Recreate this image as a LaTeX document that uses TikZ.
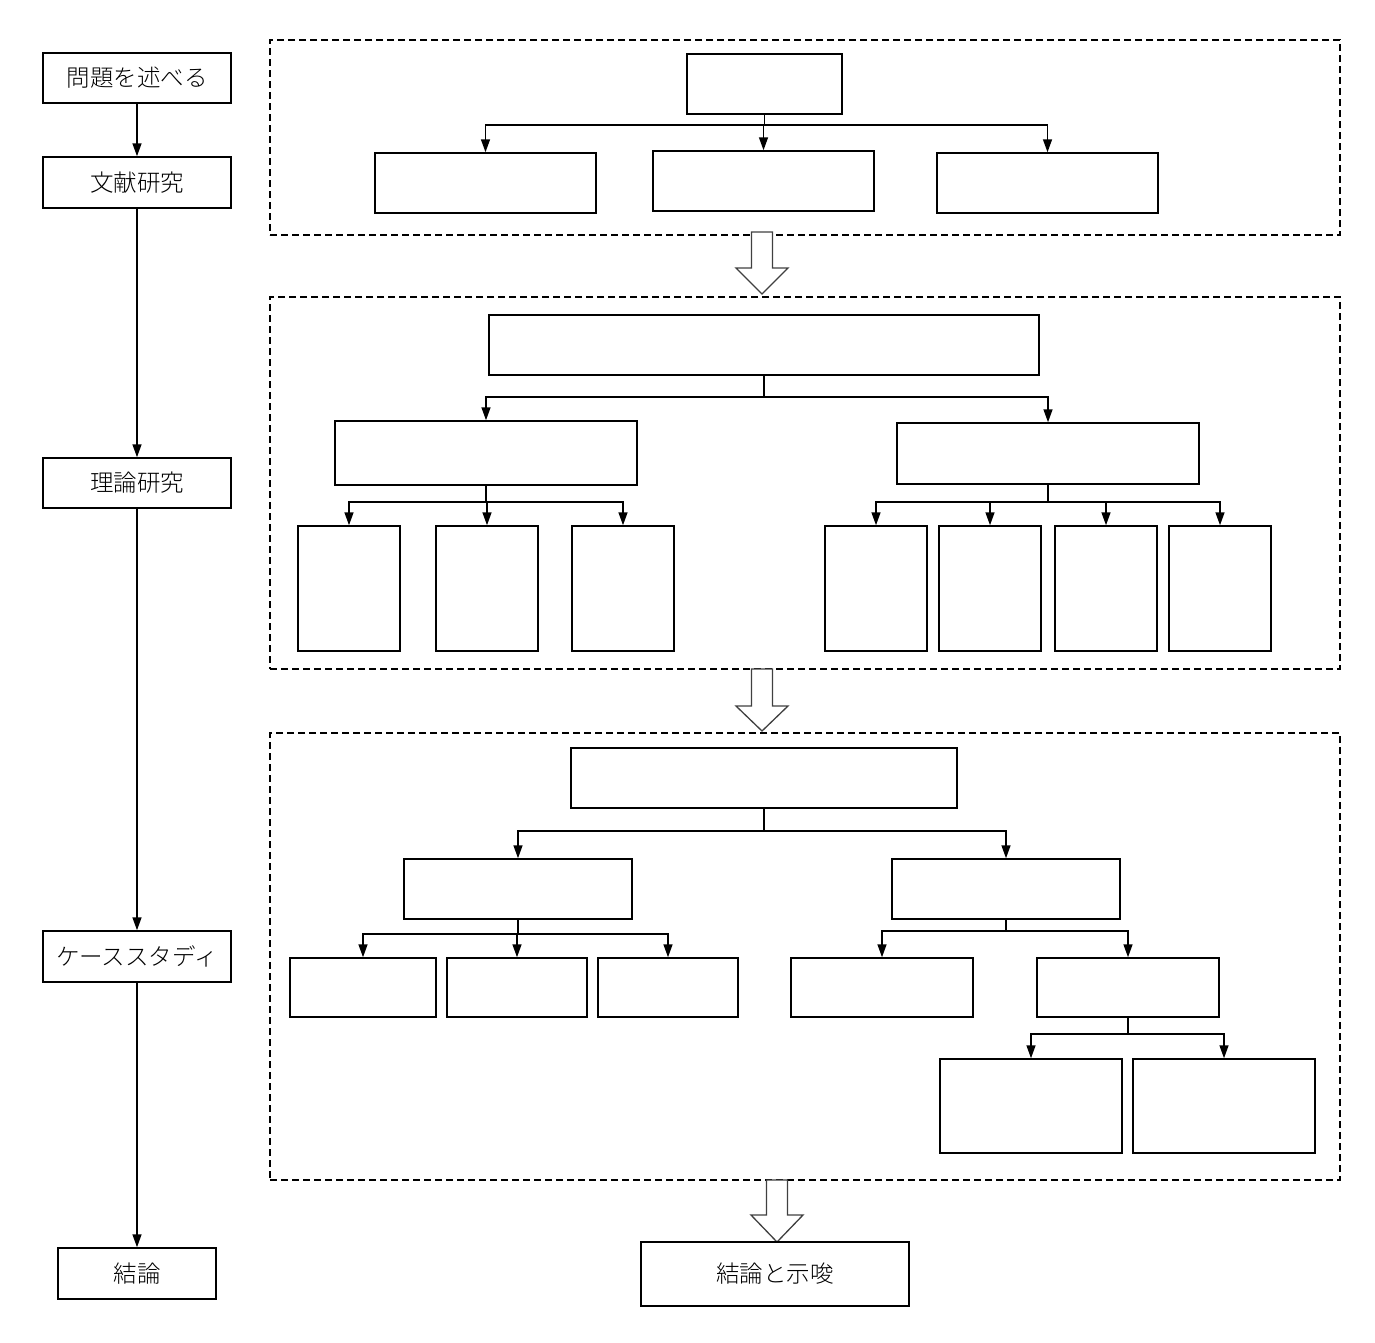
\documentclass[tikz,border=0pt]{standalone}
\usepackage{fontspec}
\setmainfont{Noto Sans CJK JP}[FontFace={l}{n}{Font=* Light}]
\usetikzlibrary{arrows.meta}
\tikzset{
  box/.style={draw, line width=1.5pt, inner sep=0pt, font=\fontsize{23.5}{27}\fontseries{l}\selectfont},
  dbox/.style={draw, line width=1.3pt, dash pattern=on 7pt off 4pt, inner sep=0pt},
  arr/.style={line width=1.5pt, -{Triangle[length=13pt,width=9pt]}},
  hollow/.style={draw=black!75, line width=1.3pt, fill=white},
}
\newcommand{\bx}[6]{\node[box, minimum width={(#4)-(#2)}, minimum height={(#5)-(#3)}] (#1) at ({((#2)+(#4))/2},{((#3)+(#5))/2}) {#6};}
\newcommand{\dbx}[5]{\node[dbox, minimum width={(#4)-(#2)}, minimum height={(#5)-(#3)}] (#1) at ({((#2)+(#4))/2},{((#3)+(#5))/2}) {};}
\newcommand{\harrow}[4]{% cx, shaft top, head start, tip
  \draw[hollow] ({#1-10.5},#2) -- ({#1+10.5},#2) -- ({#1+10.5},#3) -- ({#1+26},#3) -- (#1,#4) -- ({#1-26},#3) -- ({#1-10.5},#3) -- cycle;}
\begin{document}
\begin{tikzpicture}[x=1pt,y=-1pt]
\useasboundingbox (0,0) rectangle (1375,1342);
% left column
\bx{l1}{43}{53}{231}{103}{問題を述べる}
\bx{l2}{43}{157}{231}{208}{文献研究}
\bx{l3}{43}{458}{231}{508}{理論研究}
\bx{l4}{43}{931}{231}{982}{ケーススタディ}
\bx{l5}{58}{1248}{216}{1299}{結論}
\draw[arr] (l1) -- (l2);
\draw[arr] (l2) -- (l3);
\draw[arr] (l3) -- (l4);
\draw[arr] (l4.south) -- (l4.south |- l5.north);
% dashed frames
\dbx{d1}{270}{40}{1340}{235}
\dbx{d2}{270}{297}{1340}{669}
\dbx{d3}{270}{733}{1340}{1180}
% section 1
\bx{a0}{687}{54}{842}{114}{}
\bx{a1}{375}{153}{596}{213}{}
\bx{a2}{653}{151}{874}{211}{}
\bx{a3}{937}{153}{1158}{213}{}
\coordinate (ba) at (0,125);
\foreach \c in {a1,a2,a3} \draw[arr] (a0.south) -- (a0.south |- ba) -| (\c.north);
\harrow{762}{232}{268}{294}
% section 2
\bx{b0}{489}{315}{1039}{375}{}
\bx{bL}{335}{421}{637}{485}{}
\bx{bR}{897}{423}{1199}{484}{}
\coordinate (bb) at (0,397);
\foreach \c in {bL,bR} \draw[arr] (b0.south) -- (b0.south |- bb) -| (\c.north);
\bx{bL1}{298}{526}{400}{651}{}
\bx{bL2}{436}{526}{538}{651}{}
\bx{bL3}{572}{526}{674}{651}{}
\coordinate (bbl) at (0,502);
\foreach \c in {bL1,bL2,bL3} \draw[arr] (bL.south) -- (bL.south |- bbl) -| (\c.north);
\bx{bR1}{825}{526}{927}{651}{}
\bx{bR2}{939}{526}{1041}{651}{}
\bx{bR3}{1055}{526}{1157}{651}{}
\bx{bR4}{1169}{526}{1271}{651}{}
\coordinate (bbr) at (0,502);
\foreach \c in {bR1,bR2,bR3,bR4} \draw[arr] (bR.south) -- (bR.south |- bbr) -| (\c.north);
\harrow{762}{669}{706}{731}
% section 3
\bx{c0}{571}{748}{957}{808}{}
\bx{cL}{404}{859}{632}{919}{}
\bx{cR}{892}{859}{1120}{919}{}
\coordinate (bc) at (0,831);
\foreach \c in {cL,cR} \draw[arr] (c0.south) -- (c0.south |- bc) -| (\c.north);
\bx{cL1}{290}{958}{436}{1017}{}
\bx{cL2}{447}{958}{587}{1017}{}
\bx{cL3}{598}{958}{738}{1017}{}
\coordinate (bcl) at (0,934);
\foreach \c in {cL1,cL2,cL3} \draw[arr] (cL.south) -- (cL.south |- bcl) -| (\c.north);
\bx{cR1}{791}{958}{973}{1017}{}
\bx{cR2}{1037}{958}{1219}{1017}{}
\coordinate (bcr) at (0,931);
\foreach \c in {cR1,cR2} \draw[arr] (cR.south) -- (cR.south |- bcr) -| (\c.north);
\bx{cS1}{940}{1059}{1122}{1153}{}
\bx{cS2}{1133}{1059}{1315}{1153}{}
\coordinate (bcs) at (0,1034);
\foreach \c in {cS1,cS2} \draw[arr] (cR2.south) -- (cR2.south |- bcs) -| (\c.north);
\harrow{777}{1180}{1215}{1242}
% final
\bx{fin}{641}{1242}{909}{1306}{結論と示唆}
\end{tikzpicture}
\end{document}
